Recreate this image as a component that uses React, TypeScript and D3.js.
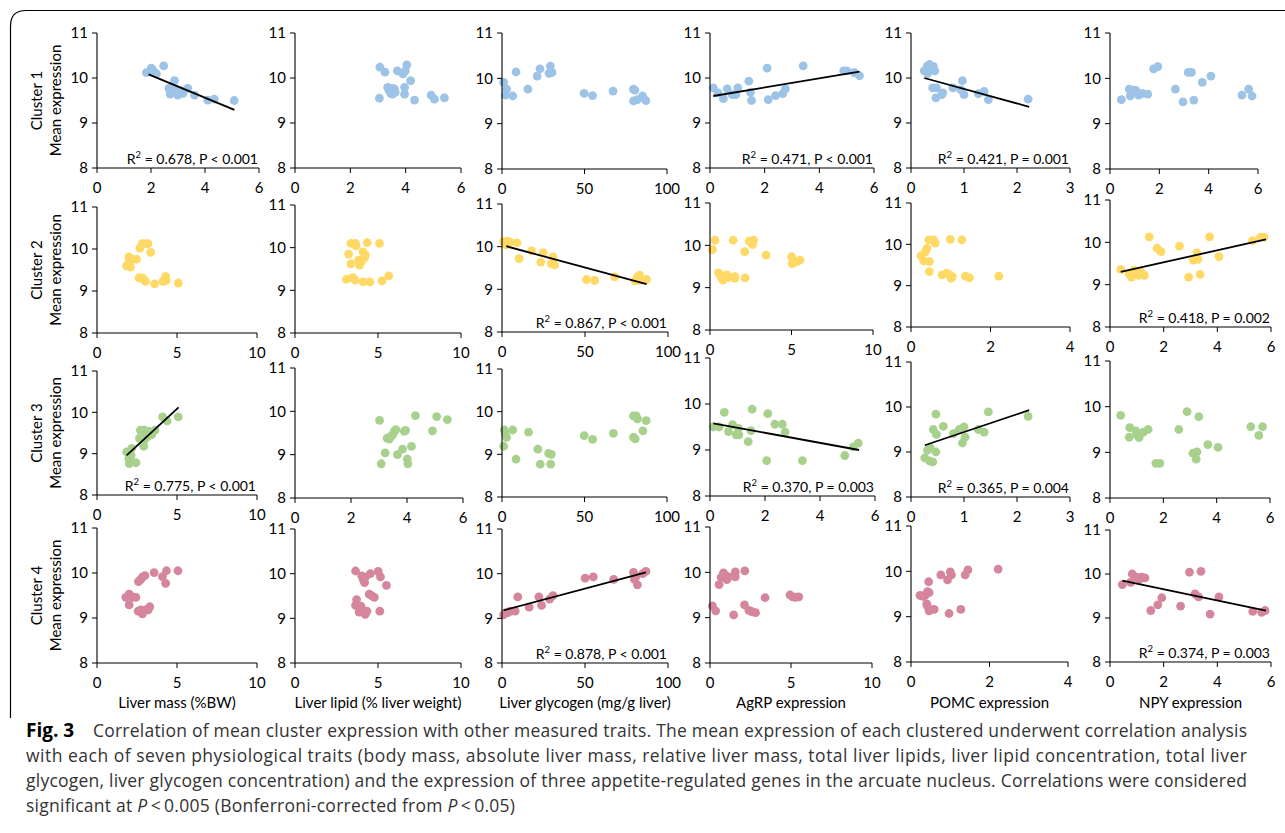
import * as d3 from "d3";

const clusters = ["Cluster 1", "Cluster 2", "Cluster 3", "Cluster 4"];
const traits = [
  "Liver mass (%BW)",
  "Liver lipid (% liver weight)",
  "Liver glycogen (mg/g liver)",
  "AgRP expression",
  "POMC expression",
  "NPY expression",
];
const yTicks = [8, 9, 10, 11];
const xTicks = [
  [[0, 2, 4, 6], [0, 2, 4, 6], [0, 50, 100], [0, 2, 4, 6], [0, 1, 2, 3], [0, 2, 4, 6]],
  [[0, 5, 10], [0, 5, 10], [0, 50, 100], [0, 5, 10], [0, 2, 4], [0, 2, 4, 6]],
  [[0, 5, 10], [0, 2, 4, 6], [0, 50, 100], [0, 2, 4, 6], [0, 1, 2, 3], [0, 2, 4, 6]],
  [[0, 5, 10], [0, 5, 10], [0, 50, 100], [0, 5, 10], [0, 2, 4], [0, 2, 4, 6]],
];

// cluster 1
const c1Mass = [[1.83,10.12],[2.01,10.22],[2.07,10.17],[2.13,10.12],[2.2,10.09],[2.47,10.27],[2.87,9.94],[2.66,9.77],[2.75,9.7],[2.71,9.64],[2.93,9.75],[2.99,9.62],[3.12,9.72],[3.18,9.66],[3.36,9.77],[3.61,9.62],[4.1,9.51],[4.34,9.53],[5.08,9.5],[2.8,9.82],[3.05,9.68]];
const c1Lipid = [[3.07,10.24],[3.25,10.13],[3.7,10.16],[3.9,10.09],[4.04,10.29],[3.99,10.16],[4.18,9.94],[3.05,9.55],[3.35,9.79],[3.46,9.66],[3.6,9.75],[3.54,9.77],[3.96,9.79],[3.96,9.64],[4.32,9.51],[4.92,9.62],[5.04,9.53],[5.4,9.56],[3.4,9.72],[3.52,9.64],[3.62,9.68]];
const c1Glyc = [[1,9.91],[2.8,9.76],[2,9.63],[6.5,9.61],[8.5,10.14],[15.7,9.76],[21.3,10.05],[23,10.21],[28.5,10.11],[29.3,10.27],[30.3,10.13],[49.8,9.67],[54.9,9.62],[67.3,9.72],[79.7,9.76],[80.5,9.74],[79.7,9.5],[82.1,9.53],[85.2,9.61],[87.2,9.51]];
const c1Agrp = [[0.12,9.78],[0.29,9.67],[0.49,9.54],[0.63,9.76],[0.82,9.63],[0.94,9.63],[1.02,9.78],[1.42,9.93],[1.48,9.68],[1.52,9.5],[2.09,10.22],[2.13,9.52],[2.4,9.61],[2.66,9.65],[2.76,9.76],[3.41,10.27],[4.89,10.16],[5.01,10.16],[5.28,10.12],[5.47,10.05]];
const c1Pomc = [[0.25,10.16],[0.31,10.27],[0.35,10.3],[0.31,10.1],[0.37,10.22],[0.42,10.26],[0.45,10.16],[0.41,9.78],[0.48,9.78],[0.47,9.56],[0.58,9.63],[0.6,9.67],[0.79,9.78],[0.97,9.94],[0.94,9.74],[1.0,9.63],[1.27,9.65],[1.38,9.7],[1.46,9.52],[2.21,9.53]];
const c1Npy = [[0.46,9.53],[0.78,9.76],[0.82,9.61],[0.98,9.74],[1.05,9.73],[1.16,9.63],[1.32,9.67],[1.53,9.65],[1.77,10.21],[1.94,10.26],[2.65,9.76],[2.96,9.48],[3.17,10.13],[3.3,10.13],[3.4,9.52],[3.74,9.91],[4.09,10.05],[5.35,9.63],[5.62,9.76],[5.76,9.61]];

// cluster 2
const c2Mass = [[1.84,9.6],[1.99,9.81],[2.03,9.69],[2.09,9.57],[2.2,9.75],[2.47,9.76],[2.68,10.02],[2.82,10.13],[2.97,10.13],[3.18,10.13],[3.35,9.92],[2.62,9.31],[2.82,9.31],[2.93,9.27],[3.03,9.23],[3.6,9.17],[4.12,9.23],[4.29,9.35],[4.33,9.25],[5.08,9.19]];
const c2Lipid = [[3.1,9.26],[3.37,10.1],[3.64,10.1],[3.23,9.85],[3.37,9.62],[3.48,9.3],[3.62,9.24],[3.68,10.04],[3.83,9.71],[4.1,9.9],[4.2,9.77],[4.0,9.67],[3.89,9.59],[4.1,9.2],[4.51,9.2],[4.35,10.12],[5.09,10.1],[5.24,9.22],[5.65,9.34],[4.24,9.83]];
const c2Glyc = [[3.6,10.13],[5,10.1],[2.6,10.04],[9,10.09],[10.3,9.72],[17.8,9.9],[23.4,9.64],[24.8,9.86],[30.7,9.76],[29.7,9.6],[31.7,9.57],[50.9,9.23],[55.8,9.21],[67.9,9.29],[80.2,9.2],[81.6,9.29],[82.8,9.33],[83.2,9.21],[87.1,9.23],[1,10.12]];
const c2Agrp = [[0.15,9.9],[0.31,10.12],[0.52,9.35],[0.63,9.3],[0.69,9.24],[0.79,9.18],[0.9,9.22],[1.04,9.3],[1.15,9.24],[1.42,10.12],[1.52,9.22],[1.52,9.26],[2.13,9.85],[2.15,9.23],[2.4,10.1],[2.67,10.12],[2.6,10.02],[3.44,9.77],[5.0,9.73],[5.04,9.57],[5.31,9.61],[5.52,9.65]];
const c2Pomc = [[0.25,9.72],[0.32,9.6],[0.36,9.82],[0.4,9.9],[0.45,10.11],[0.46,9.58],[0.46,9.34],[0.57,10.11],[0.61,10.03],[0.78,9.26],[0.9,9.3],[0.97,9.26],[0.99,10.12],[1.01,9.18],[1.04,9.22],[1.28,10.11],[1.37,9.23],[1.47,9.19],[2.21,9.23]];
const c2Npy = [[0.4,9.36],[0.71,9.26],[0.8,9.18],[0.9,9.34],[1.06,9.22],[1.15,9.3],[1.28,9.22],[1.46,10.13],[1.75,9.86],[1.9,9.78],[2.59,9.91],[2.93,9.18],[3.11,9.58],[3.24,9.75],[3.28,9.6],[3.36,9.24],[3.71,10.13],[4.06,9.66],[5.31,10.04],[5.61,10.12],[5.74,10.12]];

// cluster 3
const c3Mass = [[1.85,9.04],[1.98,8.88],[2.02,8.76],[2.13,8.96],[2.17,9.13],[2.44,8.78],[2.65,9.37],[2.71,9.57],[2.85,9.34],[2.92,9.18],[2.96,9.57],[3.06,9.49],[3.17,9.41],[3.27,9.54],[3.42,9.46],[3.63,9.57],[4.1,9.89],[4.38,9.79],[5.08,9.89],[2.96,9.33]];
const c3Lipid = [[3.02,9.79],[3.08,8.79],[3.22,9.04],[3.29,9.38],[3.37,9.36],[3.43,9.42],[3.49,9.46],[3.55,9.54],[3.6,9.58],[3.66,9.0],[3.84,9.13],[3.9,9.54],[3.95,9.56],[4.01,8.9],[4.03,8.79],[4.16,9.19],[4.3,9.9],[4.91,9.55],[5.06,9.88],[5.44,9.81]];
const c3Glyc = [[1,9.19],[1.4,9.57],[2,9.5],[2.8,9.4],[6.5,9.57],[8.5,8.89],[16.1,9.52],[21.7,9.12],[23.2,8.77],[28.3,9.02],[29.9,9.0],[29.5,8.77],[49.8,9.44],[54.9,9.35],[67.5,9.49],[79.7,9.9],[81.3,9.9],[82.1,9.83],[79.7,9.4],[80.7,9.36],[85.4,9.55],[87.4,9.79]];
const c3Agrp = [[0.12,9.5],[0.33,9.5],[0.52,9.82],[0.67,9.4],[0.82,9.55],[0.95,9.33],[1.05,9.33],[1.03,9.47],[1.39,9.18],[1.49,9.42],[1.53,9.89],[2.06,8.77],[2.1,9.79],[2.36,9.56],[2.63,9.56],[2.73,9.39],[3.36,8.77],[4.9,8.88],[5.21,9.07],[5.39,9.15]];
const c3Pomc = [[0.26,8.87],[0.31,9.04],[0.35,8.8],[0.41,8.78],[0.36,9.1],[0.42,9.5],[0.47,9.84],[0.48,9.39],[0.47,9.0],[0.61,9.57],[0.8,9.41],[0.91,9.5],[0.97,9.2],[1.0,9.56],[1.02,9.33],[1.27,9.5],[1.38,9.44],[1.46,9.89],[2.21,9.79]];
const c3Npy = [[0.4,9.81],[0.74,9.54],[0.72,9.33],[0.97,9.47],[1.01,9.39],[1.09,9.32],[1.25,9.44],[1.43,9.5],[1.72,8.76],[1.87,8.76],[2.58,9.5],[2.89,9.89],[3.11,8.98],[3.26,9.01],[3.23,8.85],[3.33,9.78],[3.67,9.17],[4.05,9.11],[5.28,9.56],[5.58,9.37],[5.72,9.56]];

// cluster 4
const c4Mass = [[1.8,9.46],[2.01,9.53],[2.12,9.49],[2.01,9.29],[2.22,9.46],[2.43,9.46],[2.59,9.81],[2.74,9.86],[2.84,9.91],[2.99,9.94],[2.57,9.15],[2.74,9.18],[2.84,9.09],[3.05,9.18],[3.2,9.18],[3.3,9.25],[3.57,10.01],[4.09,9.92],[4.29,9.77],[4.34,10.05],[5.06,10.05]];
const c4Lipid = [[3.65,10.06],[3.71,9.42],[3.65,9.29],[3.86,9.14],[4.02,9.95],[4.12,9.86],[4.19,9.8],[4.23,9.92],[4.33,9.16],[4.54,10.0],[4.47,9.54],[4.64,9.5],[4.78,9.47],[4.19,9.16],[3.98,9.27],[4.23,9.09],[5.01,10.05],[5.11,9.16],[5.51,9.74],[5.15,9.93]];
const c4Glyc = [[1,9.08],[2,9.12],[3.6,9.13],[5,9.16],[7.9,9.16],[9.5,9.48],[16.4,9.25],[22.2,9.48],[23.8,9.29],[28.7,9.43],[30.7,9.51],[50.1,9.9],[55,9.93],[67.3,9.87],[79.2,10.03],[79.8,9.87],[81.6,9.75],[84.8,10.0],[86.7,10.05],[80.8,9.94]];
const c4Agrp = [[0.15,9.26],[0.35,9.15],[0.56,9.73],[0.69,9.89],[0.83,9.99],[0.94,9.94],[1.04,9.84],[1.15,9.9],[1.56,10.01],[1.56,9.9],[1.46,9.06],[2.15,10.03],[2.13,9.28],[2.4,9.16],[2.6,9.13],[2.81,9.11],[3.4,9.44],[4.94,9.5],[5.1,9.46],[5.27,9.45],[5.48,9.46]];
const c4Pomc = [[0.23,9.47],[0.3,9.45],[0.36,9.47],[0.4,9.28],[0.42,9.55],[0.45,9.77],[0.46,9.53],[0.42,9.23],[0.46,9.13],[0.59,9.16],[0.76,9.92],[0.93,9.81],[1.0,9.99],[1.03,9.92],[0.97,9.07],[1.27,9.16],[1.38,9.92],[1.45,10.03],[2.22,10.05]];
const c4Npy = [[0.46,9.76],[0.77,9.81],[0.83,10.0],[0.99,9.93],[1.09,9.87],[1.18,9.93],[1.3,9.91],[1.52,9.17],[1.78,9.3],[1.93,9.46],[2.63,9.27],[2.96,10.04],[3.17,9.55],[3.3,9.48],[3.39,10.06],[3.73,9.09],[4.06,9.48],[5.32,9.15],[5.65,9.13],[5.78,9.17]];

const points = [
  [c1Mass, c1Lipid, c1Glyc, c1Agrp, c1Pomc, c1Npy],
  [c2Mass, c2Lipid, c2Glyc, c2Agrp, c2Pomc, c2Npy],
  [c3Mass, c3Lipid, c3Glyc, c3Agrp, c3Pomc, c3Npy],
  [c4Mass, c4Lipid, c4Glyc, c4Agrp, c4Pomc, c4Npy],
];

// significant regressions: start / end of the trend line, and stats
const fits = [
  { row: 0, col: 0, from: [1.91, 10.08], to: [5.09, 9.29], r2: "0.678", p: "< 0.001" },
  { row: 0, col: 3, from: [0.12, 9.6], to: [5.47, 10.14], r2: "0.471", p: "< 0.001" },
  { row: 0, col: 4, from: [0.25, 10.0], to: [2.23, 9.36], r2: "0.421", p: "= 0.001" },
  { row: 1, col: 2, from: [2.6, 10.01], to: [87.1, 9.12], r2: "0.867", p: "< 0.001" },
  { row: 1, col: 5, from: [0.4, 9.3], to: [5.81, 10.07], r2: "0.418", p: "= 0.002" },
  { row: 2, col: 0, from: [1.85, 8.96], to: [5.1, 10.12], r2: "0.775", p: "< 0.001" },
  { row: 2, col: 3, from: [0.12, 9.58], to: [5.42, 9.0], r2: "0.370", p: "= 0.003" },
  { row: 2, col: 4, from: [0.26, 9.15], to: [2.23, 9.93], r2: "0.365", p: "= 0.004" },
  { row: 3, col: 2, from: [1.0, 9.18], to: [86.7, 10.03], r2: "0.878", p: "< 0.001" },
  { row: 3, col: 5, from: [0.46, 9.85], to: [5.81, 9.17], r2: "0.374", p: "= 0.003" },
];

const clusterColors = ["#9DC3E6", "#FFD966", "#A9D18E", "#D5869C"];

// panel geometry (pixels)
const xLeft = [97, 295, 502, 710, 911, 1110];
const xRight = [
  [259, 461, 667, 874, 1070, 1258],
  [257, 461, 668, 873, 1070, 1271],
  [257, 463, 667, 875, 1070, 1270],
  [257, 461, 668, 872, 1068, 1271],
];
const yTop = [
  [33, 33, 33, 33, 33, 33],
  [207, 205, 204, 203, 203, 200],
  [371, 368, 369, 358, 362, 361],
  [528, 529, 529, 527, 526, 530],
];
const yBottom = [
  [168, 168, 169, 168, 168, 169],
  [333, 333, 332, 330, 327, 327],
  [495, 498, 497, 496, 497, 498],
  [663, 663, 663, 663, 662, 662],
];

const FONT = "Lato, 'Open Sans', sans-serif";
const CAP_FONT = "'Open Sans', 'Noto Sans', sans-serif";

function Panel({ row, col }) {
  const ticks = xTicks[row][col];
  const x0 = xLeft[col], x1 = xRight[row][col];
  const y0 = yTop[row][col], y1 = yBottom[row][col];
  const x = d3.scaleLinear().domain([0, ticks[ticks.length - 1]]).range([x0, x1]);
  const y = d3.scaleLinear().domain([8, 11]).range([y1, y0]);
  const fit = fits.find((f) => f.row === row && f.col === col);
  return (
    <g>
      {points[row][col].map((d, i) => (
        <circle key={i} cx={x(d[0])} cy={y(d[1])} r={4.4} fill={clusterColors[row]} />
      ))}
      <line x1={x0} x2={x0} y1={y(8)} y2={y(11)} stroke="#000" strokeWidth={1.1} />
      <line x1={x0} x2={x1} y1={y(8)} y2={y(8)} stroke="#000" strokeWidth={1.1} />
      {yTicks.map((t) => (
        <g key={"y" + t}>
          <line x1={x0 - 5} x2={x0} y1={y(t)} y2={y(t)} stroke="#000" />
          <text x={x0 - 9} y={y(t)} dy="0.35em" textAnchor="end" fontSize={15}>{t}</text>
        </g>
      ))}
      {ticks.map((t) => (
        <g key={"x" + t}>
          <line x1={x(t)} x2={x(t)} y1={y(8)} y2={y(8) + 5} stroke="#000" />
          <text x={x(t)} y={y(8) + 25} textAnchor="middle" fontSize={15}>{t}</text>
        </g>
      ))}
      {fit && (
        <g>
          <line x1={x(fit.from[0])} y1={y(fit.from[1])} x2={x(fit.to[0])} y2={y(fit.to[1])}
            stroke="#000" strokeWidth={1.8} />
          <text x={x1 - 1} y={y(8) - 4} textAnchor="end" fontSize={14}>
            R<tspan dy={-6} fontSize={9.5}>2</tspan>
            <tspan dy={6}>{` = ${fit.r2}, P ${fit.p}`}</tspan>
          </text>
        </g>
      )}
    </g>
  );
}

const captionLines = [
  "Correlation of mean cluster expression with other measured traits. The mean expression of each clustered underwent correlation analysis",
  "with each of seven physiological traits (body mass, absolute liver mass, relative liver mass, total liver lipids, liver lipid concentration, total liver",
  "glycogen, liver glycogen concentration) and the expression of three appetite-regulated genes in the arcuate nucleus. Correlations were considered",
];

export default function App() {
  const W = 1285, H = 833;
  return (
    <svg width={W} height={H} fontFamily={FONT}
      style={{ position: "absolute", left: 0, top: 0, background: "#fff" }}>
      <path d={`M10.5,718 L10.5,26 Q10.5,10.5 26,10.5 L${W},10.5`} fill="none" stroke="#000" strokeWidth={1.2} />
      {clusters.map((name, r) => {
        const cy = (yTop[r][0] + yBottom[r][0]) / 2;
        return (
          <g key={name}>
            <text transform={`translate(42,${cy}) rotate(-90)`} textAnchor="middle" fontSize={15}>{name}</text>
            <text transform={`translate(61,${cy}) rotate(-90)`} textAnchor="middle" fontSize={15}>Mean expression</text>
            {traits.map((t, c) => <Panel key={t} row={r} col={c} />)}
          </g>
        );
      })}
      {traits.map((t, c) => (
        <text key={t} x={(xLeft[c] + xRight[3][c]) / 2} y={708} textAnchor="middle" fontSize={15}>{t}</text>
      ))}
      <g fontFamily={CAP_FONT} fontSize={17.5} fill="#333">
        <text x={26} y={737} fontWeight="bold" fontSize={19} fill="#000">Fig. 3</text>
        <text x={93} y={737} textLength={1247 - 93} lengthAdjust="spacing">{captionLines[0]}</text>
        <text x={26} y={762} textLength={1247 - 26} lengthAdjust="spacing">{captionLines[1]}</text>
        <text x={26} y={787} textLength={1247 - 26} lengthAdjust="spacing">{captionLines[2]}</text>
        <text x={26} y={812} textLength={489} lengthAdjust="spacing">
          significant at <tspan fontStyle="italic">P</tspan>{"\u2009<\u20090.005 (Bonferroni-corrected from "}
          <tspan fontStyle="italic">P</tspan>{"\u2009<\u20090.05)"}
        </text>
      </g>
    </svg>
  );
}
